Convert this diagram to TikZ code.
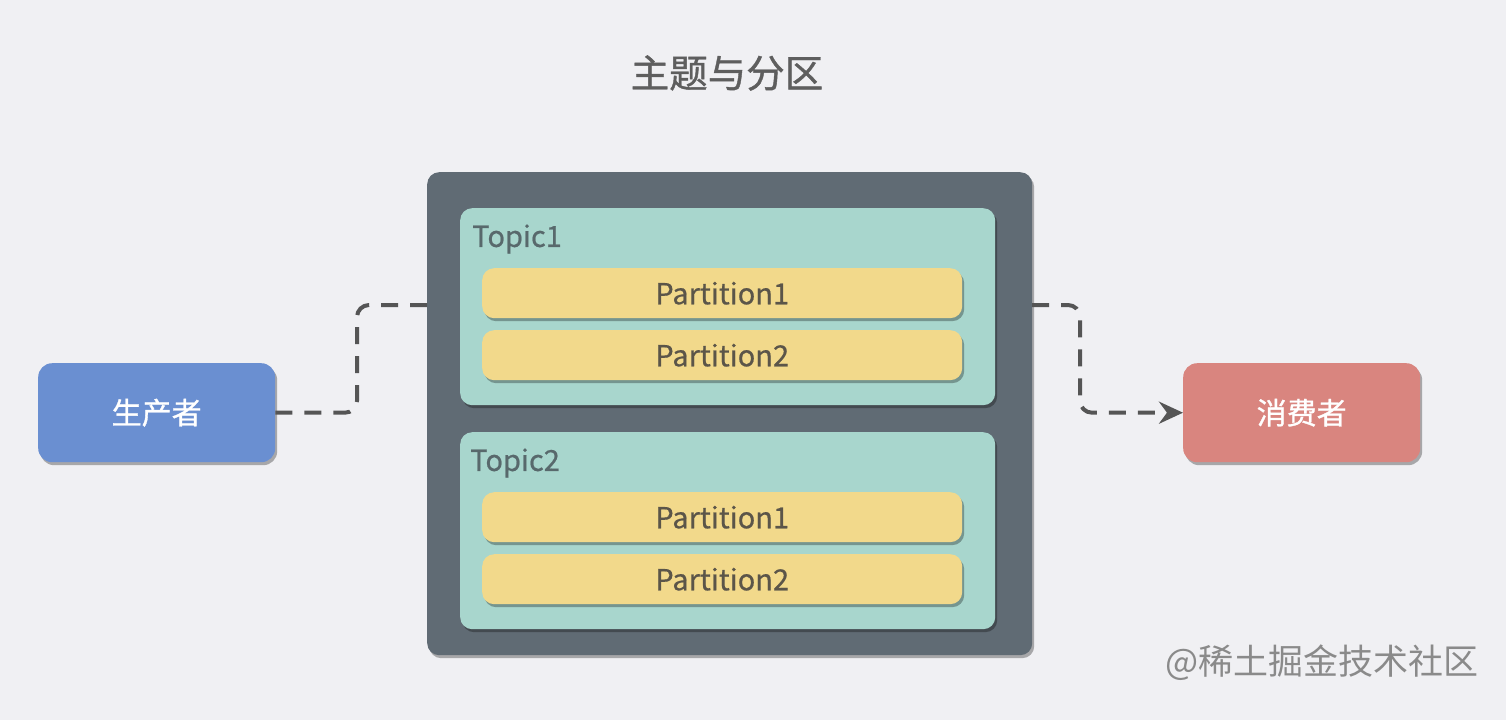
\documentclass[tikz,border=0pt]{standalone}
\usepackage{fontspec}
\setmainfont{Noto Sans CJK SC}
\newfontfamily\medfont[FakeBold=1.0]{Noto Sans CJK SC}
\newfontfamily\lightbold[FakeBold=0.6]{Noto Sans CJK SC}
\usetikzlibrary{shadows,arrows.meta}
\definecolor{bgc}{HTML}{F0F0F3}
\definecolor{outerc}{HTML}{606B74}
\definecolor{topicc}{HTML}{A8D6CD}
\definecolor{partc}{HTML}{F2D98B}
\definecolor{prodc}{HTML}{6A8FD1}
\definecolor{consc}{HTML}{D9857F}
\definecolor{titlec}{HTML}{5E5E5E}
\definecolor{parttext}{HTML}{5B5549}
\definecolor{topictext}{HTML}{58696C}
\definecolor{connc}{HTML}{555555}
\definecolor{wmc}{HTML}{8A8A8A}
\tikzset{
  shad/.style={drop shadow={shadow xshift=2pt, shadow yshift=-3pt, opacity=0.3, fill=black}},
  outerbox/.style={fill=outerc, rounded corners=12pt, anchor=north west, inner sep=0pt, shad},
  topicbox/.style={fill=topicc, rounded corners=12pt, anchor=north west, inner sep=0pt, shad},
  partbox/.style={fill=partc, rounded corners=12pt, anchor=north west, inner sep=0pt, shad,
     minimum width=480pt, minimum height=50pt, text=parttext, font=\lightbold\fontsize{29}{32}\selectfont},
  actor/.style={rounded corners=14pt, anchor=north west, inner sep=0pt, shad,
     minimum width=237pt, minimum height=99pt, text=white, font=\medfont\fontsize{30}{33}\selectfont},
  topiclabel/.style={anchor=west, inner sep=0pt, text=topictext, font=\lightbold\fontsize{29}{32}\selectfont},
  conn/.style={draw=connc, line width=4pt, dash pattern=on 17pt off 12pt, rounded corners=12pt},
}
\begin{document}
\begin{tikzpicture}[x=1pt,y=-1pt]
\fill[bgc] (0,0) rectangle (1506,720);
\useasboundingbox (0,0) rectangle (1506,720);
\node[anchor=center, text=titlec, font=\medfont\fontsize{38.5}{42}\selectfont] (title) at (727,73) {主题与分区};
\node[outerbox, minimum width=605pt, minimum height=483pt] (outer) at (427,172) {};
\node[topicbox, minimum width=535pt, minimum height=197pt] (t1) at (460,208) {};
\node[topiclabel] (t1l) at (472,239) {Topic1};
\node[partbox] (p11) at (482,268) {Partition1};
\node[partbox] (p12) at (482,330) {Partition2};
\node[topicbox, minimum width=535pt, minimum height=197pt] (t2) at (460,432) {};
\node[topiclabel] (t2l) at (470,463) {Topic2};
\node[partbox] (p21) at (482,492) {Partition1};
\node[partbox] (p22) at (482,554) {Partition2};
\node[actor, fill=prodc] (prod) at (38,363) {生产者};
\node[actor, fill=consc] (cons) at (1183,363) {消费者};
\node[anchor=center, text=wmc, font=\fontsize{35}{38}\selectfont] (wm) at (1322,663) {@稀土掘金技术社区};
\coordinate (inL) at (427,305);
\coordinate (outR) at (1032,305);
\coordinate (bendL) at (357,305);
\coordinate (bendR) at (1080,305);
\draw[conn] (prod.east) -| (bendL) -- (inL);
\draw[conn, -{Stealth[length=24pt,width=22pt,inset=8pt]}] (outR) -- (bendR) |- (cons.west);
\end{tikzpicture}
\end{document}
